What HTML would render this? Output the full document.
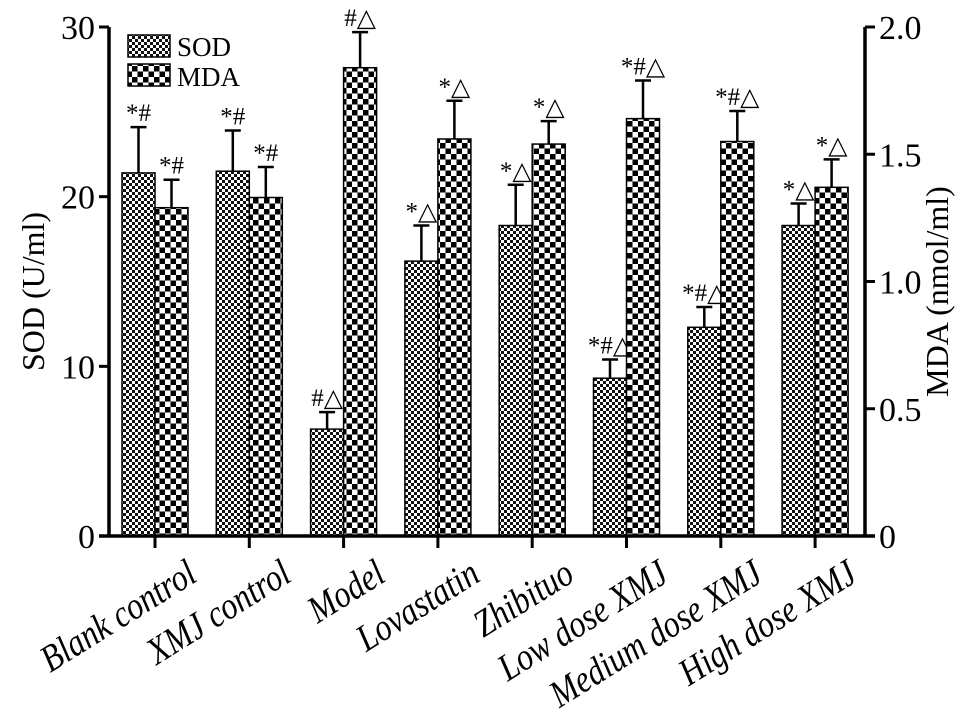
<!DOCTYPE html>
<html><head><meta charset="utf-8"><style>
body{margin:0;background:#fff}
svg text{font-family:"Liberation Serif",serif;fill:#000}
</style></head><body>
<svg id="c" width="969" height="712">
<defs>
<pattern id="pSOD" width="6" height="6" patternUnits="userSpaceOnUse">
<rect width="6" height="6" fill="#fff"/><rect width="3" height="3" fill="#111"/><rect x="3" y="3" width="3" height="3" fill="#111"/>
</pattern>
<pattern id="pMDA" width="11" height="11" patternUnits="userSpaceOnUse">
<rect width="11" height="11" fill="#fff"/><rect width="5.5" height="5.5" fill="#000"/><rect x="5.5" y="5.5" width="5.5" height="5.5" fill="#000"/>
</pattern>
</defs>
</svg>
<script>
const categories=["Blank control","XMJ control","Model","Lovastatin","Zhibituo","Low dose XMJ","Medium dose XMJ","High dose XMJ"];
const sodValues=[21.4,21.5,6.3,16.2,18.3,9.3,12.3,18.3];
const sodErrors=[2.7,2.4,1.0,2.1,2.4,1.1,1.2,1.3];
const sodMarks=["*#","*#","#△","*△","*△","*#△","*#△","*△"];
const mdaValues=[1.29,1.33,1.84,1.56,1.54,1.64,1.55,1.37];
const mdaErrors=[0.11,0.12,0.14,0.15,0.09,0.15,0.12,0.11];
const mdaMarks=["*#","*#","#△","*△","*△","*#△","*#△","*△"];
const leftTicks=[0,10,20,30];
const rightTicks=["0","0.5","1.0","1.5","2.0"];
const NS="http://www.w3.org/2000/svg";
const svg=document.getElementById('c');
const X0=109,X1=865,Y0=536,Y1=27;
function yL(v){return Y0-(v/30)*(Y0-Y1);}
function yR(v){return Y0-(v/2)*(Y0-Y1);}
function xC(i){return 155+i*94.3;}
const BW=33;
function el(t,a,txt){const e=document.createElementNS(NS,t);for(const k in a)e.setAttribute(k,a[k]);if(txt!==undefined)e.textContent=txt;svg.appendChild(e);return e;}
categories.forEach((c,i)=>{
  const cx=xC(i);
  const ys=yL(sodValues[i]);
  let b=el('rect',{x:cx-BW,y:ys,width:BW,height:Y0-ys,fill:'url(#pSOD)',stroke:'#000','stroke-width':1.5});
  
  
  const ye=yL(sodValues[i]+sodErrors[i]);
  let e1=el('path',{d:`M${cx-BW/2},${ys}V${ye}M${cx-BW/2-8},${ye}H${cx-BW/2+8}`,stroke:'#000','stroke-width':2.5,fill:'none'});
  
  
  let t1=el('text',{x:cx-BW/2,y:ye-6,'text-anchor':'middle','font-size':25},sodMarks[i]);
  
  
  const ym=yR(mdaValues[i]);
  let b2=el('rect',{x:cx,y:ym,width:BW,height:Y0-ym,fill:'url(#pMDA)',stroke:'#000','stroke-width':1.5});
  
  
  const ye2=yR(mdaValues[i]+mdaErrors[i]);
  let e2=el('path',{d:`M${cx+BW/2},${ym}V${ye2}M${cx+BW/2-8},${ye2}H${cx+BW/2+8}`,stroke:'#000','stroke-width':2.5,fill:'none'});
  
  
  let t2=el('text',{x:cx+BW/2,y:ye2-6,'text-anchor':'middle','font-size':25},mdaMarks[i]);
  
  
  el('line',{x1:cx,x2:cx,y1:Y0,y2:Y0+12,stroke:'#000','stroke-width':3});
  let lb=el('text',{x:0,y:0,'text-anchor':'end','font-size':34,'font-style':'italic',transform:`translate(${cx+44},${Y0+44}) rotate(-32) scale(0.95,1.12)`},c);
  
  
});
let ax=el('path',{d:`M${X0},${Y1}V${Y0}M${X1},${Y1}V${Y0}M${X0-10},${Y0}H${X1+10}`,stroke:'#000','stroke-width':3.5,fill:'none'});


leftTicks.forEach(v=>{
  const y=yL(v);
  el('line',{x1:X0-10,x2:X0,y1:y,y2:y,stroke:'#000','stroke-width':3});
  let t=el('text',{x:X0-14,y:y+12,'text-anchor':'end','font-size':34},String(v));
  
  
});
rightTicks.forEach(v=>{
  const y=yR(parseFloat(v));
  el('line',{x1:X1,x2:X1+10,y1:y,y2:y,stroke:'#000','stroke-width':3});
  let t=el('text',{x:X1+14,y:y+12,'text-anchor':'start','font-size':34},v);
  
  
});
let yt=el('text',{x:0,y:0,'text-anchor':'middle','font-size':32,transform:`translate(44,${(Y0+Y1)/2+10}) rotate(-90)`},'SOD (U/ml)');


let yt2=el('text',{x:0,y:0,'text-anchor':'middle','font-size':32,transform:`translate(948,${(Y0+Y1)/2+10}) rotate(-90)`},'MDA (nmol/ml)');


let l1=el('rect',{x:128,y:35,width:42,height:22,fill:'url(#pSOD)',stroke:'#000','stroke-width':1.5});


let lt1=el('text',{x:177,y:56,'font-size':27},'SOD');


let l2=el('rect',{x:128,y:64,width:42,height:22,fill:'url(#pMDA)',stroke:'#000','stroke-width':1.5});


let lt2=el('text',{x:177,y:86,'font-size':27},'MDA');


</script>
</body></html>
